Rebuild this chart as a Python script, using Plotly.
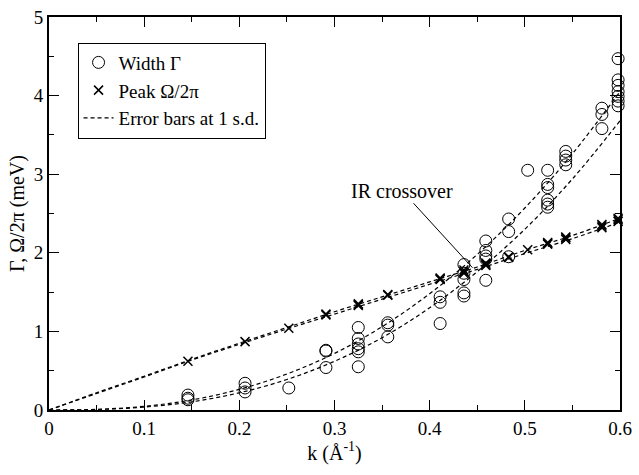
import plotly.graph_objects as go

# Width Gamma (open circles)
gamma_k = [0.146, 0.146, 0.146,
           0.206, 0.206, 0.206,
           0.252,
           0.291, 0.291, 0.291,
           0.325, 0.325, 0.325, 0.325, 0.325, 0.325,
           0.356, 0.356, 0.356,
           0.411, 0.411, 0.411,
           0.436, 0.436, 0.436, 0.436, 0.436,
           0.459, 0.459, 0.459, 0.459, 0.459,
           0.483, 0.483, 0.483,
           0.503,
           0.524, 0.524, 0.524, 0.524, 0.524, 0.524,
           0.543, 0.543, 0.543, 0.543,
           0.581, 0.581, 0.581,
           0.598, 0.598, 0.598, 0.598, 0.598, 0.598, 0.598]
gamma_val = [0.19, 0.15, 0.13,
             0.34, 0.28, 0.23,
             0.28,
             0.76, 0.75, 0.54,
             1.05, 0.91, 0.84, 0.78, 0.74, 0.55,
             1.11, 1.08, 0.93,
             1.44, 1.37, 1.10,
             1.85, 1.74, 1.66, 1.49, 1.45,
             2.15, 2.03, 1.96, 1.92, 1.65,
             2.43, 2.27, 1.95,
             3.05,
             3.05, 2.87, 2.83, 2.67, 2.62, 2.58,
             3.29, 3.23, 3.18, 3.12,
             3.84, 3.76, 3.58,
             4.47, 4.20, 4.13, 4.05, 3.99, 3.93, 3.87]

# Peak Omega/2pi (crosses)
peak_k = [0.146, 0.206, 0.252,
          0.291, 0.291,
          0.325, 0.325, 0.325,
          0.356, 0.356,
          0.411, 0.411, 0.411,
          0.436, 0.436, 0.436,
          0.459, 0.459, 0.459,
          0.483, 0.483,
          0.503,
          0.524, 0.524, 0.524,
          0.543, 0.543, 0.543,
          0.581, 0.581, 0.581,
          0.598, 0.598, 0.598]
peak_val = [0.62, 0.87, 1.04,
            1.22, 1.21,
            1.34, 1.33, 1.35,
            1.47, 1.46,
            1.67, 1.66, 1.68,
            1.76, 1.74, 1.78,
            1.85, 1.84, 1.87,
            1.95, 1.94,
            2.04,
            2.12, 2.11, 2.13,
            2.19, 2.17, 2.20,
            2.34, 2.32, 2.36,
            2.42, 2.40, 2.44]

# Error band curves (1 s.d.)
curve_k = [0.0, 0.05, 0.10, 0.15, 0.20, 0.25, 0.30, 0.35, 0.40, 0.45, 0.50, 0.55, 0.60]
gamma_upper = [0.0, 0.008, 0.047, 0.128, 0.263, 0.458, 0.72, 1.06, 1.48, 1.98, 2.57, 3.26, 4.05]
gamma_lower = [0.0, 0.006, 0.037, 0.104, 0.219, 0.388, 0.62, 0.92, 1.30, 1.76, 2.30, 2.94, 3.68]
peak_upper = [0.0, 0.22, 0.43, 0.645, 0.85, 1.05, 1.25, 1.44, 1.63, 1.82, 2.03, 2.22, 2.44]
peak_lower = [0.0, 0.21, 0.42, 0.635, 0.835, 1.03, 1.22, 1.41, 1.60, 1.79, 1.99, 2.18, 2.39]

FONT = "Liberation Serif"
DASH = "4px,3px"
FS_TICK = 19
FS_TEXT = 20

fig = go.Figure()
fig.add_trace(go.Scatter(x=gamma_k, y=gamma_val, mode="markers", name="Width Γ",
                         marker=dict(symbol="circle-open", size=12, color="black",
                                     line=dict(width=1, color="black")),
                         cliponaxis=False))
fig.add_trace(go.Scatter(x=peak_k, y=peak_val, mode="markers", name="Peak Ω/2π",
                         marker=dict(symbol="x-thin-open", size=9, color="black",
                                     line=dict(width=1.5, color="black")),
                         cliponaxis=False))
for i, ys in enumerate([gamma_upper, gamma_lower, peak_upper, peak_lower]):
    fig.add_trace(go.Scatter(x=curve_k, y=ys, mode="lines", line_shape="spline",
                             name="Error bars at 1 s.d.", showlegend=(i == 0),
                             line=dict(color="black", width=1.2, dash=DASH)))

fig.add_annotation(x=0.445, y=1.81, ax=0.371, ay=2.79, axref="x", ayref="y",
                   xref="x", yref="y", text="IR crossover", showarrow=True,
                   arrowhead=0, arrowwidth=1, arrowcolor="black",
                   font=dict(family=FONT, size=FS_TEXT, color="black"))

axis_common = dict(showgrid=False, zeroline=False, showline=True, linecolor="black",
                   linewidth=2, mirror="allticks", ticks="inside", ticklen=10,
                   tickwidth=1, tickcolor="black", ticklabeloverflow="allow",
                   tickfont=dict(family=FONT, size=FS_TICK, color="black"))

fig.update_xaxes(range=[0, 0.6], dtick=0.1, tick0=0,
                 minor=dict(dtick=0.05, ticklen=5, ticks="inside", tickcolor="black", tickwidth=1),
                 title=dict(text="k (Å<sup>-1</sup>)", font=dict(family=FONT, size=FS_TEXT, color="black"),
                            standoff=8),
                 **axis_common)
fig.update_yaxes(range=[0, 5], dtick=1, tick0=0,
                 minor=dict(dtick=0.5, ticklen=5, ticks="inside", tickcolor="black", tickwidth=1),
                 title=dict(text="Γ, Ω/2π (meV)", font=dict(family=FONT, size=FS_TEXT, color="black"),
                            standoff=4),
                 **axis_common)

fig.update_layout(width=639, height=475,
                  margin=dict(l=49, r=14, t=7, b=65),
                  paper_bgcolor="white", plot_bgcolor="white",
                  font=dict(family=FONT, size=FS_TEXT, color="black"),
                  showlegend=True,
                  legend=dict(x=0.05, y=0.935, xanchor="left", yanchor="top",
                              bordercolor="black", borderwidth=1, bgcolor="white",
                              font=dict(family=FONT, size=19, color="black"),
                              tracegroupgap=0, itemwidth=30))

fig.write_html("out.html")
